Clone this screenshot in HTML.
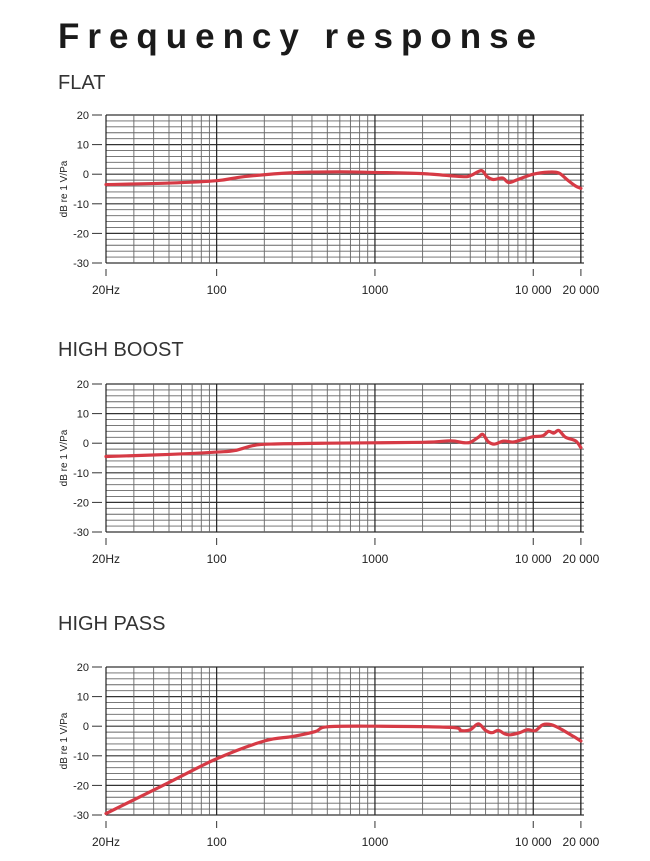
<!DOCTYPE html>
<html><head><meta charset="utf-8"><style>
html,body{margin:0;padding:0;background:#fff;}
svg{display:block;}
</style></head><body>
<svg id="s" width="650" height="861" xmlns="http://www.w3.org/2000/svg" font-family="Liberation Sans, sans-serif">
<text x="58" y="48" font-size="35" font-weight="bold" fill="#1a1a1a" textLength="478" lengthAdjust="spacing">Frequency response</text>
</svg>
<script>
const s=document.getElementById('s');
const NS='http://www.w3.org/2000/svg';
function el(t,a,txt){const e=document.createElementNS(NS,t);for(const k in a)e.setAttribute(k,a[k]);if(txt!=null)e.textContent=txt;s.appendChild(e);return e;}
const X0=106,DEC=158.3;
const fx=f=>X0+Math.log10(f/20)*DEC;
const charts=[
 {title:'FLAT',ty:89,top:115,bot:263,pts:[[20,-3.5],[50,-3],[100,-2.2],[150,-0.8],[300,0.5],[600,0.8],[1000,0.6],[2000,0.2],[3500,-0.8],[4000,-0.5],[4700,1.2],[5100,-0.8],[5600,-1.8],[6400,-1.3],[7000,-2.8],[8000,-1.8],[10000,0],[12500,0.7],[14500,0.4],[16500,-2],[18500,-4],[20000,-4.8]]},
 {title:'HIGH BOOST',ty:356,top:384,bot:532,pts:[[20,-4.5],[50,-3.8],[100,-3],[130,-2.5],[170,-0.8],[220,-0.3],[500,0],[2000,0.3],[3000,0.8],[3600,0.2],[4000,0.3],[4500,2],[4800,3],[5200,0.5],[5700,-0.3],[6500,0.7],[7500,0.4],[8500,1.2],[10000,2.2],[11500,2.5],[12500,4],[13500,3.4],[14500,4.3],[16000,2],[18500,0.8],[20000,-1.5]]},
 {title:'HIGH PASS',ty:630,top:667,bot:815,pts:[[20,-29.5],[50,-19],[100,-11],[200,-5],[300,-3.5],[420,-1.8],[500,-0.2],[1000,0],[3000,-0.4],[3500,-1.5],[4000,-1.2],[4500,0.8],[5000,-1.4],[5500,-2.2],[6000,-1.4],[6600,-2.6],[7200,-2.9],[8200,-2.2],[9200,-1.2],[10300,-1.5],[11500,0.5],[13000,0.5],[15000,-1],[18000,-3.5],[20000,-5]]}
];
for(const c of charts){
 el('text',{x:58,y:c.ty,'font-size':20,fill:'#333'},c.title);
 const fy=d=>c.top+(20-d)*(c.bot-c.top)/50;
 for(let d=-30;d<=20;d+=2){const maj=d%10==0;el('line',{x1:X0,x2:584,y1:fy(d),y2:fy(d),stroke:maj?'#333':'#666','stroke-width':maj?1.2:0.9});}
 const fs=[];for(let dec of [10,100,1000,10000])for(let m=1;m<10;m++){const f=dec*m;if(f>=20&&f<=20000)fs.push(f);}fs.push(20000);
 for(const f of fs){const maj=[20,100,1000,10000,20000].includes(f);el('line',{x1:fx(f),x2:fx(f),y1:c.top,y2:c.bot,stroke:maj?'#222':'#666','stroke-width':maj?1.2:0.9});}
 for(let d=-30;d<=20;d+=10){el('line',{x1:92,x2:102,y1:fy(d),y2:fy(d),stroke:'#333','stroke-width':1});el('text',{x:89,y:fy(d)+4,'font-size':11,'text-anchor':'end',fill:'#222'},String(d));}
 el('text',{transform:`translate(67,${(c.top+c.bot)/2}) rotate(-90)`,'font-size':10,'text-anchor':'middle',fill:'#222'},'dB re 1 V/Pa');
 const labs=[[20,'20Hz'],[100,'100'],[1000,'1000'],[10000,'10 000'],[20000,'20 000']];
 for(const [f,l] of labs){el('line',{x1:fx(f),x2:fx(f),y1:c.bot+6,y2:c.bot+13,stroke:'#333','stroke-width':1});el('text',{x:fx(f),y:c.bot+31,'font-size':12,'text-anchor':'middle',fill:'#222'},l);}
 const P=c.pts.map(p=>[fx(p[0]),fy(p[1])]);
 let d='M'+P[0][0]+','+P[0][1];
 for(let i=0;i<P.length-1;i++){const p0=P[i-1]||P[i],p1=P[i],p2=P[i+1],p3=P[i+2]||p2;
  const c1=[p1[0]+(p2[0]-p0[0])/6,p1[1]+(p2[1]-p0[1])/6],c2=[p2[0]-(p3[0]-p1[0])/6,p2[1]-(p3[1]-p1[1])/6];
  d+=` C${c1[0]},${c1[1]} ${c2[0]},${c2[1]} ${p2[0]},${p2[1]}`;}
 el('path',{d:d,fill:'none',stroke:'#d63a45','stroke-width':3.2,'stroke-linejoin':'round','stroke-linecap':'round'});
}
</script>
</body></html>
